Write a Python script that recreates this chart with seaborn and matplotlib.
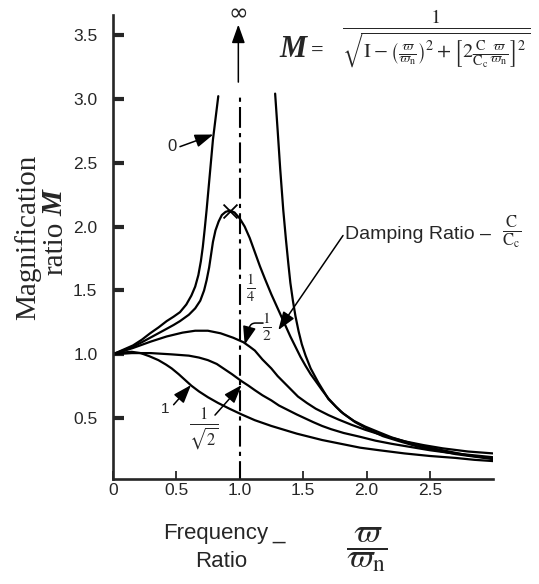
import numpy as np
import pandas as pd
import matplotlib
matplotlib.use("Agg")
import matplotlib.pyplot as plt
import seaborn as sns

# ---------------- data ----------------
# undamped (zeta = 0): left branch and right branch
ratio_z0_left = [0.00, 0.08, 0.16, 0.23, 0.295, 0.36, 0.425, 0.48, 0.53, 0.58, 0.62, 0.65, 0.675,
                 0.695, 0.71, 0.725, 0.74, 0.76, 0.79, 0.832]
m_z0_left = [1.00, 1.035, 1.07, 1.115, 1.165, 1.21, 1.26, 1.295, 1.33, 1.39, 1.46, 1.53, 1.62,
             1.73, 1.84, 1.98, 2.13, 2.35, 2.68, 3.02]
ratio_z0_right = [1.28, 1.30, 1.32, 1.344, 1.365, 1.384, 1.40, 1.42, 1.44, 1.465, 1.49, 1.52, 1.56,
                  1.62, 1.70, 1.80, 1.91, 2.02, 2.13, 2.26, 2.40, 2.55, 2.70, 2.85, 3.00]
m_z0_right = [3.04, 2.75, 2.45, 2.13, 1.90, 1.71, 1.56, 1.42, 1.30, 1.18, 1.08, 0.99, 0.89,
              0.78, 0.65, 0.55, 0.47, 0.41, 0.36, 0.32, 0.28, 0.25, 0.22, 0.20, 0.18]

# zeta = 1/4
ratio_z14 = [0.00, 0.08, 0.16, 0.23, 0.295, 0.36, 0.425, 0.48, 0.53, 0.60, 0.65, 0.69, 0.72, 0.74,
             0.76, 0.775, 0.79, 0.81, 0.835, 0.86, 0.89, 0.924, 0.96, 1.00, 1.04, 1.08, 1.12,
             1.16, 1.20, 1.25, 1.30, 1.35, 1.40, 1.44, 1.48, 1.52, 1.56, 1.60, 1.65, 1.70, 1.76,
             1.82, 1.90, 1.99, 2.10, 2.20, 2.35, 2.50, 2.65, 2.80, 3.00]
m_z14 = [1.00, 1.03, 1.06, 1.095, 1.13, 1.165, 1.20, 1.23, 1.26, 1.31, 1.36, 1.42, 1.50, 1.58,
         1.68, 1.78, 1.88, 1.97, 2.04, 2.09, 2.115, 2.125, 2.11, 2.065, 2.00, 1.91, 1.80,
         1.69, 1.59, 1.47, 1.36, 1.25, 1.14, 1.06, 0.98, 0.91, 0.845, 0.79, 0.72, 0.655, 0.59,
         0.535, 0.48, 0.435, 0.39, 0.35, 0.305, 0.27, 0.24, 0.21, 0.185]

# zeta = 1/2
ratio_z12 = [0.00, 0.08, 0.16, 0.30, 0.425, 0.55, 0.65, 0.75, 0.85, 0.95, 1.03, 1.08, 1.12, 1.18,
             1.25, 1.30, 1.36, 1.46, 1.53, 1.60, 1.70, 1.78, 1.88, 1.99, 2.15, 2.30, 2.45, 2.60,
             2.80, 3.00]
m_z12 = [1.00, 1.025, 1.05, 1.10, 1.14, 1.17, 1.185, 1.185, 1.165, 1.13, 1.095, 1.06, 1.03, 0.96,
         0.89, 0.83, 0.77, 0.67, 0.62, 0.575, 0.525, 0.49, 0.45, 0.41, 0.36, 0.32, 0.29, 0.265,
         0.24, 0.225]

# zeta = 1/sqrt(2)
ratio_zr2 = [0.00, 0.15, 0.30, 0.465, 0.60, 0.68, 0.75, 0.82, 0.88, 0.94, 1.016, 1.07, 1.12, 1.18,
             1.25, 1.31, 1.38, 1.45, 1.515, 1.58, 1.65, 1.72, 1.82, 1.95, 2.07, 2.20, 2.35, 2.50,
             2.65, 2.80, 3.00]
m_zr2 = [1.00, 1.01, 1.01, 1.00, 0.99, 0.975, 0.955, 0.925, 0.885, 0.845, 0.79, 0.755, 0.72, 0.68,
         0.64, 0.60, 0.565, 0.53, 0.50, 0.47, 0.44, 0.415, 0.385, 0.355, 0.325, 0.30, 0.275, 0.25,
         0.23, 0.215, 0.195]

# zeta = 1
ratio_z1 = [0.00, 0.08, 0.15, 0.22, 0.29, 0.36, 0.42, 0.465, 0.52, 0.57, 0.62, 0.68, 0.75, 0.83,
            0.92, 1.016, 1.12, 1.25, 1.35, 1.45, 1.55, 1.65, 1.80, 1.95, 2.10, 2.30, 2.50, 2.70,
            2.85, 3.00]
m_z1 = [1.00, 1.015, 1.02, 1.01, 0.985, 0.955, 0.92, 0.89, 0.845, 0.80, 0.755, 0.71, 0.665, 0.62,
        0.575, 0.53, 0.485, 0.44, 0.41, 0.38, 0.355, 0.33, 0.30, 0.27, 0.25, 0.225, 0.205, 0.19,
        0.175, 0.165]

x_ticks = [0, 0.5, 1.0, 1.5, 2.0, 2.5]
x_ticklabels = ["0", "0.5", "1.0", "1.5", "2.0", "2.5"]
y_ticks = [0.5, 1.0, 1.5, 2.0, 2.5, 3.0, 3.5]
y_ticklabels = ["0.5", "1.0", "1.5", "2.0", "2.5", "3.0", "3.5"]

RESONANCE = 1.0

curves = {
    "z0_left": (ratio_z0_left, m_z0_left),
    "z0_right": (ratio_z0_right, m_z0_right),
    "z14": (ratio_z14, m_z14),
    "z12": (ratio_z12, m_z12),
    "zr2": (ratio_zr2, m_zr2),
    "z1": (ratio_z1, m_z1),
}
df = pd.concat(
    [pd.DataFrame({"curve": k, "ratio": v[0], "M": v[1]}) for k, v in curves.items()],
    ignore_index=True,
)

# ---------------- styling ----------------
sns.set_style("ticks")
plt.rcParams["font.family"] = ["Liberation Sans", "DejaVu Sans"]
plt.rcParams["mathtext.fontset"] = "stix"

W, H = 539, 584
fig = plt.figure(figsize=(W / 100, H / 100), dpi=100)
ax = fig.add_axes([112.7 / W, 1 - 479 / H, 380.7 / W, 464 / H])

sns.lineplot(data=df, x="ratio", y="M", units="curve", estimator=None, sort=False,
             color="black", lw=1.6, ax=ax, legend=False)

# peak marker on the zeta = 1/4 curve
ipk = int(np.argmax(m_z14))
sns.scatterplot(x=[ratio_z14[ipk]], y=[m_z14[ipk]], marker="x", s=100, color="black",
                linewidth=1.3, ax=ax, legend=False, zorder=5)

# resonance line
ax.vlines(RESONANCE, 0.0, 3.03, colors="black", lw=1.5,
          linestyles=[(0, (10, 2.5, 2, 2.5))])
ax.annotate("", xy=(RESONANCE - 0.01, 3.58), xytext=(RESONANCE - 0.01, 3.13),
            arrowprops=dict(arrowstyle="-|>,head_length=0.7,head_width=0.25", lw=1.1,
                            color="black", mutation_scale=16, shrinkA=0, shrinkB=0))
ax.text(RESONANCE - 0.01, 3.67, "∞", ha="center", va="center", fontsize=17,
        family="DejaVu Sans")

ax.set_xlim(0, 3.0)
ax.set_ylim(0.025, 3.655)
ax.set_xticks(x_ticks)
ax.set_xticklabels(x_ticklabels)
ax.set_yticks(y_ticks)
ax.set_yticklabels(y_ticklabels)
ax.tick_params(axis="y", direction="in", length=8, width=3, pad=11, labelsize=12.5)
ax.tick_params(axis="x", direction="in", length=6, width=1.3, pad=3, labelsize=12.5)
ax.set_xlabel("")
ax.set_ylabel("")
sns.despine(ax=ax)
for s in ("left", "bottom"):
    ax.spines[s].set_linewidth(1.9)

head = "-|>,head_length=0.7,head_width=0.25"
arrow_kw = dict(arrowstyle=head, lw=1.1, color="black", mutation_scale=16, shrinkA=0, shrinkB=0)

# curve labels and their arrows
ax.text(0.47, 2.63, "0", fontsize=12, ha="center", va="center")
ax.annotate("", xy=(0.793, 2.72), xytext=(0.53, 2.625), arrowprops=arrow_kw)

ax.text(1.085, 1.52, r"$\frac{1}{4}$", fontsize=15, ha="center", va="center")

ax.text(1.215, 1.215, r"$\frac{1}{2}$", fontsize=16, ha="center", va="center")
ax.annotate("", xy=(1.04, 1.075), xytext=(1.185, 1.245),
            arrowprops=dict(arrow_kw, connectionstyle="angle,angleA=0,angleB=75,rad=5"))

ax.text(0.41, 0.575, "1", fontsize=11, ha="center", va="center")
ax.annotate("", xy=(0.617, 0.76), xytext=(0.48, 0.606), arrowprops=arrow_kw)

ax.text(0.72, 0.415, r"$\frac{1}{\sqrt{2}}$", fontsize=17, ha="center", va="center")
ax.annotate("", xy=(1.016, 0.76), xytext=(0.806, 0.525), arrowprops=arrow_kw)

ax.text(1.83, 1.94, "Damping Ratio –", fontsize=14, ha="left", va="center")
ax.text(3.14, 1.955, r"$\frac{\mathrm{C}}{\mathrm{C_c}}$", fontsize=17, ha="center",
        va="center")
ax.annotate("", xy=(1.305, 1.19), xytext=(1.815, 1.93), arrowprops=arrow_kw)

# formula
fig.text(279 / W, 1 - 57 / H, "M", fontsize=22, family="Liberation Serif",
         weight="bold", style="italic", va="baseline", ha="left")
fig.text(311 / W, 1 - 56 / H, "=", fontsize=16, family="Liberation Serif",
         weight="bold", va="baseline", ha="left")
fig.text(436 / W, 1 - 39 / H,
         r"$\frac{1}{\sqrt{\mathrm{I}-\left(\frac{\varpi}{\varpi_{\mathrm{n}}}\right)^{2}"
         r"+\left[2\frac{\mathrm{C}}{\mathrm{C_c}}\frac{\varpi}{\varpi_{\mathrm{n}}}\right]^{2}}}$",
         fontsize=21, ha="center", va="center")

# axis labels
fig.text(28 / W, 1 - 237 / H, "Magnification", rotation=90, fontsize=21,
         family="Liberation Serif", ha="center", va="center")
fig.text(55 / W, 1 - 248 / H, "ratio", rotation=90, fontsize=21,
         family="Liberation Serif", ha="center", va="center")
fig.text(55 / W, 1 - 203 / H, "M", rotation=90, fontsize=21, weight="bold", style="italic",
         family="Liberation Serif", ha="center", va="center")

fig.text(163 / W, 1 - 539 / H, "Frequency", fontsize=16, ha="left", va="baseline")
fig.text(272 / W, 1 - 539 / H, "_", fontsize=16, ha="left", va="baseline")
fig.text(221 / W, 1 - 567 / H, "Ratio", fontsize=16, ha="center", va="baseline")
fig.text(367 / W, 1 - 550 / H, r"$\dfrac{\varpi}{\varpi_{\mathrm{n}}}$", fontsize=24,
         ha="center", va="center")

fig.savefig("out.png", dpi=100)
